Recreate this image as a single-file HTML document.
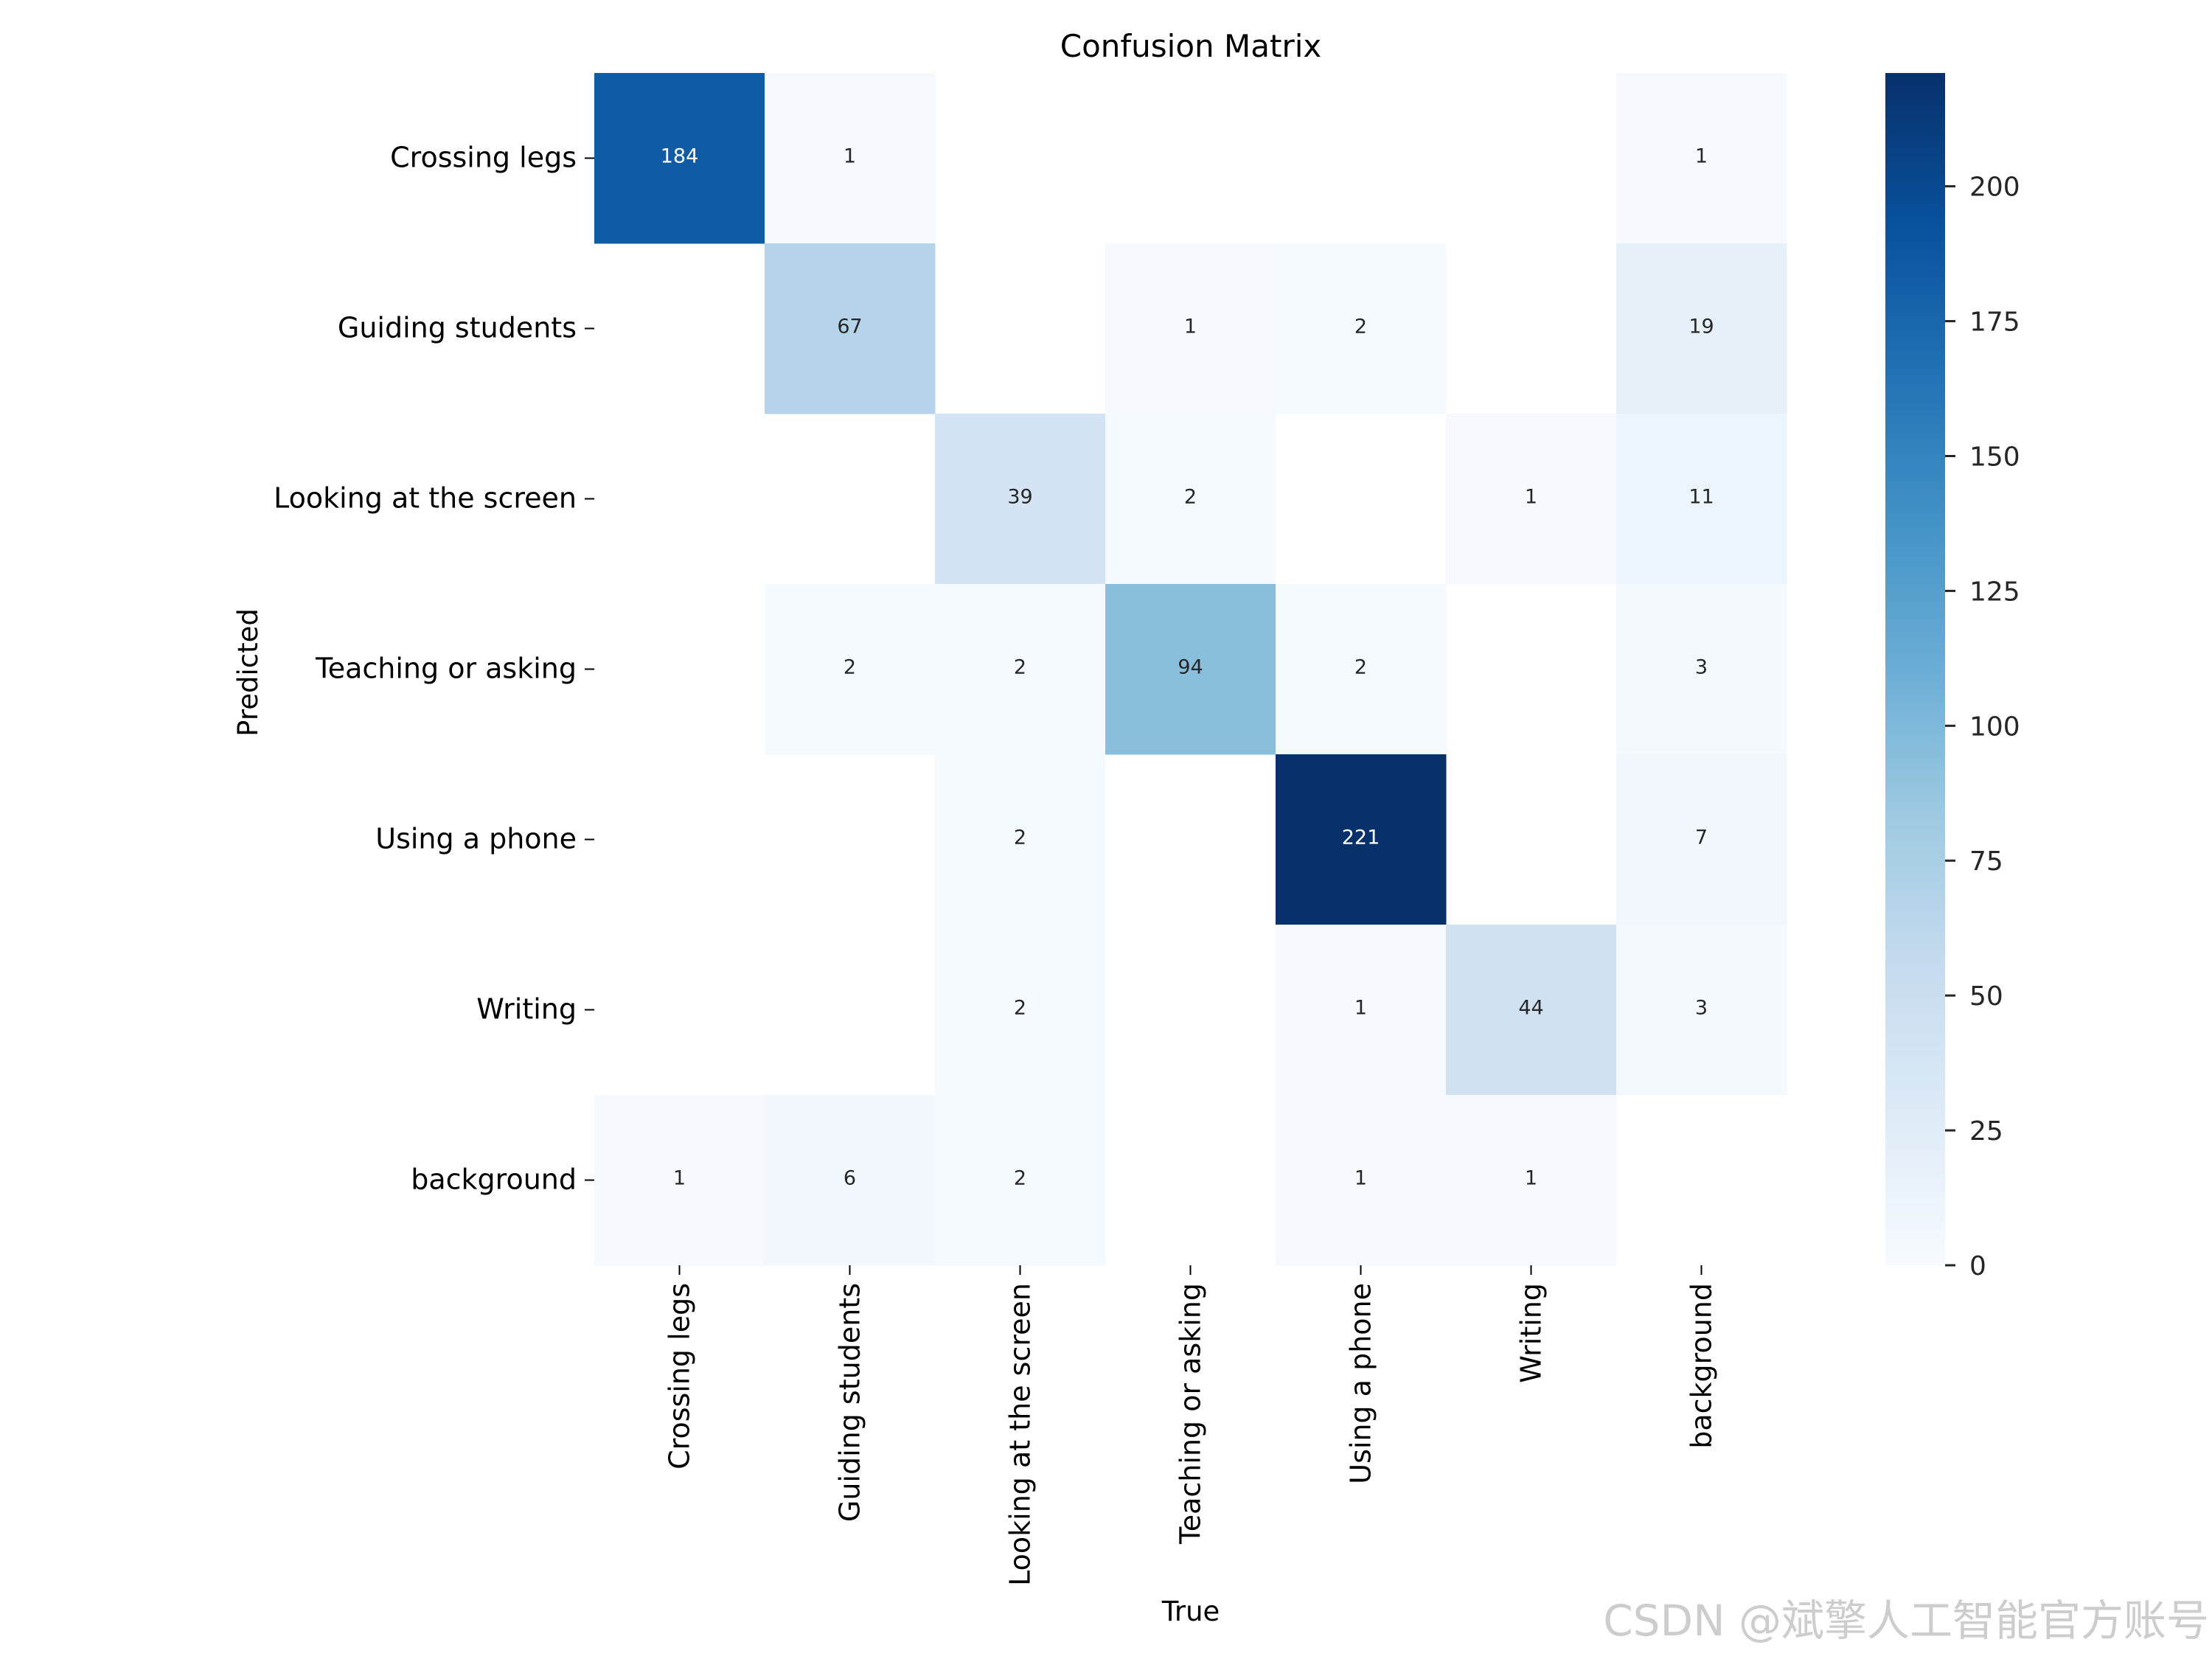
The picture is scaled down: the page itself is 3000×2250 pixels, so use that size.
<!DOCTYPE html>
<html><head><meta charset="utf-8"><style>
html,body{margin:0;padding:0;background:#fff;}
svg{display:block;font-family:"DejaVu Sans","Liberation Sans","Noto Sans CJK SC",sans-serif;}
</style></head><body>
<svg id="chart" width="3000" height="2250" viewBox="0 0 3000 2250" xmlns="http://www.w3.org/2000/svg">
<rect x="0" y="0" width="3000" height="2250" fill="#fff"/>
<text x="1615" y="77" font-size="42" text-anchor="middle" fill="#000">Confusion Matrix</text>
<text transform="translate(349,912) rotate(-90)" font-size="37" text-anchor="middle" fill="#000">Predicted</text>
<text x="1615" y="2198" font-size="37" text-anchor="middle" fill="#000">True</text>
<defs><linearGradient id="cbgrad" x1="0" y1="1" x2="0" y2="0">
<stop offset="0" stop-color="#f7fbff"/><stop offset="0.125" stop-color="#deebf7"/><stop offset="0.25" stop-color="#c6dbef"/><stop offset="0.375" stop-color="#9ecae1"/><stop offset="0.5" stop-color="#6baed6"/><stop offset="0.625" stop-color="#4292c6"/><stop offset="0.75" stop-color="#2171b5"/><stop offset="0.875" stop-color="#08519c"/><stop offset="1" stop-color="#08306b"/>
</linearGradient></defs>
<g id="cells"></g>
<g id="ylabels"></g>
<g id="xlabels"></g>
<rect x="2557" y="99" width="81" height="1617" fill="url(#cbgrad)"/>
<g id="cbticks"></g>
<text x="2996" y="2218" font-size="58" text-anchor="end" fill="#c4c4c4" fill-opacity="0.85">CSDN @斌擎人工智能官方账号</text>
</svg>
<script>
const categories = ["Crossing legs","Guiding students","Looking at the screen","Teaching or asking","Using a phone","Writing","background"];
const row0 = [184,1,0,0,0,0,1];
const row1 = [0,67,0,1,2,0,19];
const row2 = [0,0,39,2,0,1,11];
const row3 = [0,2,2,94,2,0,3];
const row4 = [0,0,2,0,221,0,7];
const row5 = [0,0,2,0,1,44,3];
const row6 = [1,6,2,0,1,1,0];
const colorbarTicks = [0,25,50,75,100,125,150,175,200];
const vmax = 221;

const matrix = [row0,row1,row2,row3,row4,row5,row6];
const NS = "http://www.w3.org/2000/svg";
const gridLeft = 806, gridTop = 99, gridSize = 1617;
const nCat = categories.length;
const cellSize = gridSize / nCat;
const xPos = i => gridLeft + i * cellSize;
const yPos = i => gridTop + i * cellSize;
const cbTop = 99, cbBottom = 1716;
const cbY = v => cbBottom - (v / vmax) * (cbBottom - cbTop);

const blueStops = ["#f7fbff","#deebf7","#c6dbef","#9ecae1","#6baed6","#4292c6","#2171b5","#08519c","#08306b"];
function hexRgb(h){return [parseInt(h.slice(1,3),16),parseInt(h.slice(3,5),16),parseInt(h.slice(5,7),16)];}
function blues(t){
  t = Math.max(0, Math.min(1, t));
  const p = t * (blueStops.length - 1);
  const i = Math.min(Math.floor(p), blueStops.length - 2);
  const f = p - i;
  const a = hexRgb(blueStops[i]), b = hexRgb(blueStops[i+1]);
  return "rgb(" + a.map((v,k)=>Math.round(v + (b[k]-v)*f)).join(",") + ")";
}
function mk(tag, attrs){const e=document.createElementNS(NS,tag);for(const k in attrs)e.setAttribute(k,attrs[k]);return e;}

const gCells = document.getElementById("cells");
matrix.forEach((row, r) => {
  row.forEach((v, c) => {
    if (v <= 0) return;
    const t = v / vmax;
    const rect = mk("rect",{x:xPos(c),y:yPos(r),width:cellSize+0.5,height:cellSize+0.5,fill:blues(t)});
    
    
    gCells.appendChild(rect);
    const txt = mk("text",{x:xPos(c)+cellSize/2,y:yPos(r)+cellSize/2+6,"font-size":27,"text-anchor":"middle",fill:t>0.6?"#fff":"#262626"});
    txt.textContent = String(v);
    
    
    gCells.appendChild(txt);
  });
});

const gy = document.getElementById("ylabels");
const gx = document.getElementById("xlabels");
categories.forEach((name, i) => {
  const cy = yPos(i) + cellSize/2;
  const tk = mk("line",{x1:gridLeft-13,y1:cy,x2:gridLeft,y2:cy,stroke:"#000","stroke-width":2});
  
  
  gy.appendChild(tk);
  const lt = mk("text",{x:gridLeft-24,y:cy+12,"font-size":38,"text-anchor":"end",fill:"#000"});
  lt.textContent = name;
  
  
  gy.appendChild(lt);

  const cx = xPos(i) + cellSize/2;
  const tx = mk("line",{x1:cx,y1:gridTop+gridSize,x2:cx,y2:gridTop+gridSize+13,stroke:"#000","stroke-width":2});
  
  
  gx.appendChild(tx);
  const xl = mk("text",{transform:"translate("+(cx+13)+","+(gridTop+gridSize+24)+") rotate(-90)","font-size":38,"text-anchor":"end",fill:"#000"});
  xl.textContent = name;
  
  
  gx.appendChild(xl);
});

const gcb = document.getElementById("cbticks");
colorbarTicks.forEach(v => {
  const y = cbY(v);
  const l = mk("line",{x1:2638,y1:y,x2:2652,y2:y,stroke:"#262626","stroke-width":3});
  
  
  gcb.appendChild(l);
  const t = mk("text",{x:2671,y:y+13,"font-size":36,fill:"#262626"});
  t.textContent = String(v);
  
  
  gcb.appendChild(t);
});
</script>
</body></html>
